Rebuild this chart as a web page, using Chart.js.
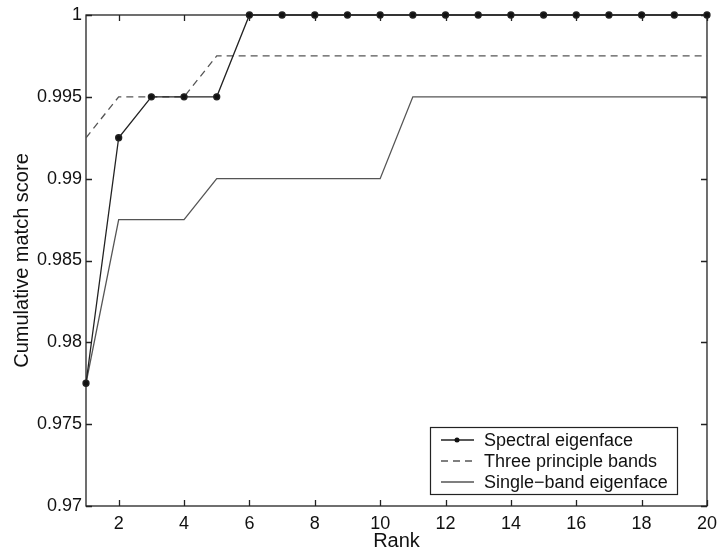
<!DOCTYPE html>
<html>
<head>
<meta charset="utf-8">
<script src="https://cdn.jsdelivr.net/npm/chart.js@4/dist/chart.umd.min.js"></script>
<style>
  html, body { margin: 0; padding: 0; background: #fff; }
  #wrap { width: 724px; height: 554px; }
</style>
</head>
<body>
<div id="wrap"><canvas id="grafico" width="724" height="554"></canvas></div>
<script>
/* dados */
const ranks = [1,2,3,4,5,6,7,8,9,10,11,12,13,14,15,16,17,18,19,20]
const spectral = [0.9775,0.9925,0.995,0.995,0.995,1,1,1,1,1,1,1,1,1,1,1,1,1,1,1]
const threeBands = [0.9925,0.995,0.995,0.995,0.9975,0.9975,0.9975,0.9975,0.9975,0.9975,0.9975,0.9975,0.9975,0.9975,0.9975,0.9975,0.9975,0.9975,0.9975,0.9975]
const singleBand = [0.9775,0.9875,0.9875,0.9875,0.99,0.99,0.99,0.99,0.99,0.99,0.995,0.995,0.995,0.995,0.995,0.995,0.995,0.995,0.995,0.995]
const xTicks = [2,4,6,8,10,12,14,16,18,20]
const yTicks = [0.97,0.975,0.98,0.985,0.99,0.995,1]
const seriesNames = ['Spectral eigenface','Three principle bands','Single\u2212band eigenface']

const FONT = 'Liberation Sans, Arial, sans-serif'

function pontos(ys) {
    return ranks.map((r, i) => ({x: r, y: ys[i]}))
}

/* moldura e ticks para dentro, estilo matlab */
const moldura = {
    id: 'moldura',
    beforeDatasetsDraw(chart) {
        const ctx = chart.ctx
        const a = chart.chartArea
        const sx = chart.scales.x
        const sy = chart.scales.y
        const t = 6
        ctx.save()
        ctx.strokeStyle = '#222'
        ctx.lineWidth = 1.3
        ctx.strokeRect(a.left, a.top, a.right - a.left, a.bottom - a.top)
        ctx.beginPath()
        xTicks.forEach(v => {
            const px = Math.round(sx.getPixelForValue(v)) + 0.5
            ctx.moveTo(px, a.bottom); ctx.lineTo(px, a.bottom - t)
            ctx.moveTo(px, a.top); ctx.lineTo(px, a.top + t)
        })
        yTicks.forEach(v => {
            const py = Math.round(sy.getPixelForValue(v)) + 0.5
            ctx.moveTo(a.left, py); ctx.lineTo(a.left + t, py)
            ctx.moveTo(a.right, py); ctx.lineTo(a.right - t, py)
        })
        ctx.stroke()
        ctx.restore()
    },
    afterDatasetsDraw(chart) {
        /* legenda */
        const ctx = chart.ctx
        const lx = 430, ly = 427, lw = 247, lh = 67
        ctx.save()
        ctx.fillStyle = '#fff'
        ctx.fillRect(lx, ly, lw, lh)
        ctx.strokeStyle = '#222'
        ctx.lineWidth = 1.2
        ctx.strokeRect(lx + 0.5, ly + 0.5, lw, lh)
        ctx.font = '18px ' + FONT
        ctx.textBaseline = 'middle'
        chart.data.datasets.forEach((ds, i) => {
            const y = ly + 13 + i * 21
            ctx.strokeStyle = ds.borderColor
            ctx.lineWidth = ds.borderWidth
            ctx.setLineDash(ds.borderDash || [])
            ctx.beginPath()
            ctx.moveTo(lx + 11, y); ctx.lineTo(lx + 44, y)
            ctx.stroke()
            ctx.setLineDash([])
            if (ds.pointRadius > 0) {
                ctx.fillStyle = '#111'
                ctx.beginPath()
                ctx.arc(lx + 27, y, 2.5, 0, Math.PI * 2)
                ctx.fill()
            }
            ctx.fillStyle = '#111'
            ctx.fillText(seriesNames[i], lx + 54, y + 1)
        })
        ctx.restore()
    }
}

const ctx = document.getElementById('grafico').getContext('2d')
const grafico = new Chart(ctx, {
    type: 'line',
    data: {
        datasets: [{
            label: seriesNames[0],
            data: pontos(spectral),
            borderColor: '#222',
            backgroundColor: '#111',
            borderWidth: 1.3,
            pointRadius: 3,
            pointStyle: 'circle',
            clip: false,
            tension: 0
        }, {
            label: seriesNames[1],
            data: pontos(threeBands),
            borderColor: '#555',
            borderWidth: 1.3,
            borderDash: [7, 5],
            pointRadius: 0,
            tension: 0
        }, {
            label: seriesNames[2],
            data: pontos(singleBand),
            borderColor: '#555',
            borderWidth: 1.3,
            pointRadius: 0,
            tension: 0
        }]
    },
    options: {
        responsive: false,
        animation: false,
        layout: { padding: { top: 15, right: 11, left: 0, bottom: 0 } },
        plugins: { legend: { display: false }, tooltip: { enabled: false } },
        scales: {
            x: {
                type: 'linear',
                min: 1, max: 20,
                afterBuildTicks: s => { s.ticks = xTicks.map(v => ({value: v})) },
                afterFit: s => { s.height = 48 },
                grid: { display: false, drawTicks: false },
                border: { display: false },
                ticks: { color: '#111', padding: 7, maxRotation: 0, font: { family: FONT, size: 18 } },
                title: { display: true, text: 'Rank', color: '#111', padding: { top: 0, bottom: 1 }, font: { family: FONT, size: 20 } }
            },
            y: {
                min: 0.97, max: 1,
                afterBuildTicks: s => { s.ticks = yTicks.map(v => ({value: v})) },
                afterFit: s => { s.width = 86 },
                grid: { display: false, drawTicks: false },
                border: { display: false },
                ticks: { color: '#111', padding: 4, font: { family: FONT, size: 18 }, callback: v => String(+v.toFixed(3)) },
                title: { display: true, text: 'Cumulative match score', color: '#111', padding: { top: 10, bottom: 0 }, font: { family: FONT, size: 20 } }
            }
        }
    },
    plugins: [moldura]
})
</script>
</body>
</html>
